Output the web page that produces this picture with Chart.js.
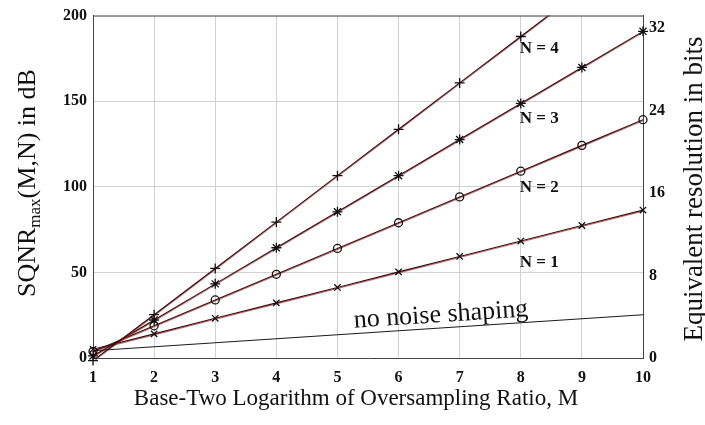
<!DOCTYPE html>
<html><head><meta charset="utf-8">
<script src="https://cdn.jsdelivr.net/npm/chart.js@4/dist/chart.umd.min.js"></script>
<style>html,body{margin:0;padding:0;background:#fff}#wrap{width:705px;height:425px}</style>
</head><body><div id="wrap"><canvas id="c" width="705" height="425"></canvas></div>
<script>
const M = [1, 2, 3, 4, 5, 6, 7, 8, 9, 10];
const sqnrN4 = [-1.5, 25.3, 52.3, 79.4, 106.5, 133.6, 160.7, 187.8, 214.9, 242.0];
const sqnrN3 = [1.2, 22.2, 43.3, 64.4, 85.4, 106.5, 127.6, 148.7, 169.7, 190.8];
const sqnrN2 = [3.8, 18.8, 33.9, 48.9, 64.0, 79.0, 94.1, 109.1, 124.2, 139.2];
const sqnrN1 = [5.1, 14.1, 23.2, 32.2, 41.2, 50.3, 59.3, 68.3, 77.4, 86.4];
const noShapingM = [1, 10];
const noShaping = [4.2, 25.3];
const N4MarkerCount = 8;
const yTicksDB = [0, 50, 100, 150, 200];
const bitTicks = [0, 8, 16, 24, 32];
const dbPerBit = 6.02;
const seriesLabels = ['N = 4', 'N = 3', 'N = 2', 'N = 1'];
const labelAnchors = [[8, 181], [8, 140], [8, 99.5], [8, 56]];
const noShapingText = 'no noise shaping';

const pts = (xs, ys) => xs.map((x, i) => ({x: x, y: ys[i]}));
const SERIF = '"Liberation Serif", "Times New Roman", serif';

const markerDs = (ys, style, r, n) => ({
  data: pts(M.slice(0, n || M.length), ys.slice(0, n || M.length)),
  showLine: false, pointStyle: style, pointRadius: r, pointHoverRadius: r,
  borderColor: '#111', backgroundColor: 'rgba(0,0,0,0)', pointBorderWidth: 1.3, clip: false
});
const lineDs = (xs, ys, red) => ({
  data: pts(xs, ys), pointRadius: 0, borderColor: '#1a1a1a', borderWidth: 1.1,
  fill: false, tension: 0, redShadow: red
});

const redShadow = {
  id: 'redShadow',
  beforeDatasetDraw(chart, args) {
    const ds = chart.data.datasets[args.index];
    chart.ctx.save();
    if (ds.redShadow) {
      chart.ctx.shadowColor = 'rgba(215,0,0,0.65)';
      chart.ctx.shadowOffsetX = 0;
      chart.ctx.shadowOffsetY = 1;
      chart.ctx.shadowBlur = 0;
    }
  },
  afterDatasetDraw(chart) { chart.ctx.restore(); }
};

const decor = {
  id: 'decor',
  afterDraw(chart) {
    const ctx = chart.ctx, a = chart.chartArea;
    const xs = chart.scales.x, ys = chart.scales.y;
    ctx.save();
    ctx.strokeStyle = '#555'; ctx.lineWidth = 1;
    ctx.beginPath(); ctx.moveTo(a.left, a.top + 0.5); ctx.lineTo(a.right, a.top + 0.5); ctx.stroke();
    ctx.fillStyle = '#111';
    ctx.font = 'bold 17px ' + SERIF;
    ctx.textAlign = 'left'; ctx.textBaseline = 'middle';
    seriesLabels.forEach((t, i) => {
      ctx.fillText(t, xs.getPixelForValue(labelAnchors[i][0]) - 1, ys.getPixelForValue(labelAnchors[i][1]));
    });
    const x0 = xs.getPixelForValue(noShapingM[0]), x1 = xs.getPixelForValue(noShapingM[1]);
    const y0 = ys.getPixelForValue(noShaping[0]), y1 = ys.getPixelForValue(noShaping[1]);
    const ang = Math.atan2(y1 - y0, x1 - x0);
    ctx.save();
    ctx.translate(441, 316);
    ctx.rotate(ang);
    ctx.font = '26px ' + SERIF;
    ctx.textAlign = 'center'; ctx.textBaseline = 'alphabetic';
    ctx.fillText(noShapingText, 0, 6);
    ctx.restore();
    ctx.font = '23px ' + SERIF;
    ctx.textAlign = 'center'; ctx.textBaseline = 'middle';
    ctx.fillText('Base-Two Logarithm of Oversampling Ratio, M', 356, 399);
    ctx.save();
    ctx.translate(35, 297);
    ctx.rotate(-Math.PI / 2);
    ctx.textAlign = 'left'; ctx.textBaseline = 'alphabetic';
    let x = 0;
    ctx.font = '26px ' + SERIF;
    ctx.fillText('SQNR', x, 0); x += ctx.measureText('SQNR').width;
    ctx.font = '17px ' + SERIF;
    ctx.fillText('max', x, 5); x += ctx.measureText('max').width;
    ctx.font = '26px ' + SERIF;
    ctx.fillText('(M,N) in dB', x, 0);
    ctx.restore();
    ctx.save();
    ctx.translate(702, 189);
    ctx.rotate(-Math.PI / 2);
    ctx.font = '27px ' + SERIF;
    ctx.textAlign = 'center'; ctx.textBaseline = 'alphabetic';
    ctx.fillText('Equivalent resolution in bits', 0, 0);
    ctx.restore();
    ctx.restore();
  }
};

new Chart(document.getElementById('c'), {
  type: 'line',
  data: {
    datasets: [
      markerDs(sqnrN4, 'cross', 5, N4MarkerCount),
      markerDs(sqnrN3, 'star', 5),
      markerDs(sqnrN2, 'circle', 4),
      markerDs(sqnrN1, 'crossRot', 4.5),
      lineDs(M, sqnrN4, true),
      lineDs(M, sqnrN3, true),
      lineDs(M, sqnrN2, true),
      lineDs(M, sqnrN1, true),
      lineDs(noShapingM, noShaping, false)
    ]
  },
  options: {
    responsive: false, animation: false, devicePixelRatio: 1,
    layout: { padding: { top: 13, left: 0, right: 0, bottom: 0 } },
    plugins: { legend: { display: false }, tooltip: { enabled: false } },
    scales: {
      x: {
        type: 'linear', min: 1, max: 10,
        afterBuildTicks: s => { s.ticks = M.map(v => ({value: v})); },
        afterFit: s => { s.height = 67; },
        grid: { color: '#d2d2d2', drawTicks: false },
        border: { color: '#444', width: 1 },
        ticks: { color: '#111', padding: 10, font: { family: SERIF, size: 16, weight: 'bold' } }
      },
      y: {
        type: 'linear', position: 'left', min: 0, max: 200,
        afterBuildTicks: s => { s.ticks = yTicksDB.map(v => ({value: v})); },
        afterFit: s => { s.width = 93; },
        grid: { color: '#d2d2d2', drawTicks: false },
        border: { color: '#444', width: 1 },
        ticks: { color: '#111', padding: 6, font: { family: SERIF, size: 16, weight: 'bold' } }
      },
      y2: {
        type: 'linear', position: 'right', min: 0, max: 200 / dbPerBit,
        afterBuildTicks: s => { s.ticks = bitTicks.map(v => ({value: v})); },
        afterFit: s => { s.width = 62; },
        grid: { display: false, drawTicks: false },
        border: { color: '#444', width: 1 },
        ticks: { color: '#111', padding: 6, font: { family: SERIF, size: 16, weight: 'bold' } }
      }
    }
  },
  plugins: [redShadow, decor]
});
</script>
</body></html>
